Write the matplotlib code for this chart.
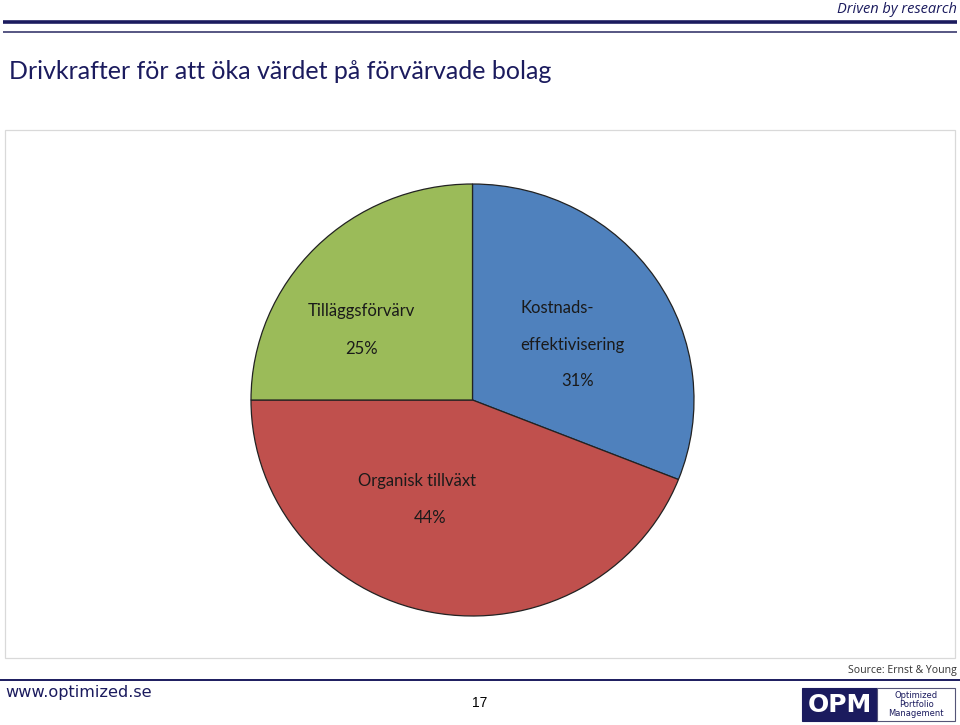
import matplotlib
matplotlib.use('Agg')
import matplotlib.pyplot as plt
import matplotlib.patches as mpatches

labels = ['Kostnads-\neffektivisering', 'Organisk tillväxt', 'Tilläggsförvärv']
shares = [31, 44, 25]
colors = ['#4F81BD', '#C0504D', '#9BBB59']

NAVY = '#1b1b5e'
W, H = 960, 725

fig = plt.figure(figsize=(W / 100, H / 100), dpi=100, facecolor='white')


def px(x0, y0, x1, y1):
    # pixel box (top-left origin) -> figure fraction rect
    return [x0 / W, 1 - y1 / H, (x1 - x0) / W, (y1 - y0) / H]


# page decoration layer
deco = fig.add_axes([0, 0, 1, 1])
deco.set_xlim(0, W)
deco.set_ylim(H, 0)
deco.axis('off')

deco.plot([3, 957], [22, 22], color=NAVY, lw=2.6, solid_capstyle='butt')
deco.plot([3, 957], [32, 32], color='#3a3a6e', lw=1.2, solid_capstyle='butt')
deco.text(957, 9, 'Driven by research', ha='right', va='center',
          fontsize=10.5, style='italic', color=NAVY,
          family=['Open Sans', 'DejaVu Sans'])
deco.text(9, 71, 'Drivkrafter för att öka värdet på förvärvade bolag',
          ha='left', va='center', fontsize=18, color=NAVY,
          family=['Lato', 'DejaVu Sans'])

# chart frame
deco.add_patch(mpatches.Rectangle((5, 130), 950, 528, facecolor='white',
                                  edgecolor='#d9d9d9', lw=0.9))

# footer
deco.text(957, 670, 'Source: Ernst & Young', ha='right', va='center',
          fontsize=7.6, color='#333333', family=['Open Sans', 'DejaVu Sans'])
deco.plot([0, 960], [680, 680], color=NAVY, lw=1.4)
deco.text(5, 692, 'www.optimized.se', ha='left', va='center',
          fontsize=11.6, color=NAVY, family='DejaVu Sans')
deco.text(480, 703, '17', ha='center', va='center', fontsize=10, color='black',
          family=['Liberation Sans', 'DejaVu Sans'])

# OPM logo
deco.add_patch(mpatches.Rectangle((802, 688), 75, 33, facecolor=NAVY,
                                  edgecolor=NAVY, lw=0.8))
deco.add_patch(mpatches.Rectangle((877, 688), 78, 33, facecolor='white',
                                  edgecolor='#555577', lw=0.8))
deco.text(839.5, 705.5, 'OPM', ha='center', va='center', fontsize=18,
          fontweight='bold', color='white', family='DejaVu Sans')
deco.text(916, 704.5, 'Optimized\nPortfolio\nManagement', ha='center',
          va='center', fontsize=6, color=NAVY, linespacing=1.05,
          family='DejaVu Sans')

# pie
ax = fig.add_axes(px(251, 184, 694, 616))
wedges, _ = ax.pie(shares, colors=colors, startangle=90, counterclock=False,
                   radius=1, wedgeprops=dict(edgecolor='#222222', linewidth=0.9))
ax.set_aspect('auto')
ax.set_xlim(-1, 1)
ax.set_ylim(-1, 1)
ax.axis('off')

# data labels, placed in pie coordinates
label_pos = [(0.45, 0.34), (-0.25, -0.375), (-0.50, 0.41)]
pct_pos = [(0.476, 0.088), (-0.19, -0.546), (-0.50, 0.236)]
for lab, val, (lx, ly), (vx, vy) in zip(labels, shares, label_pos, pct_pos):
    ax.text(lx, ly, lab, ha='center', va='center', fontsize=12,
            color='#1a1a1a', linespacing=2.6, multialignment='left',
            family=['Lato', 'Open Sans', 'DejaVu Sans'])
    ax.text(vx, vy, f'{val}%', ha='center', va='center', fontsize=12,
            color='#1a1a1a', family=['Lato', 'Open Sans', 'DejaVu Sans'])

fig.savefig('out.png', dpi=100, facecolor='white')
